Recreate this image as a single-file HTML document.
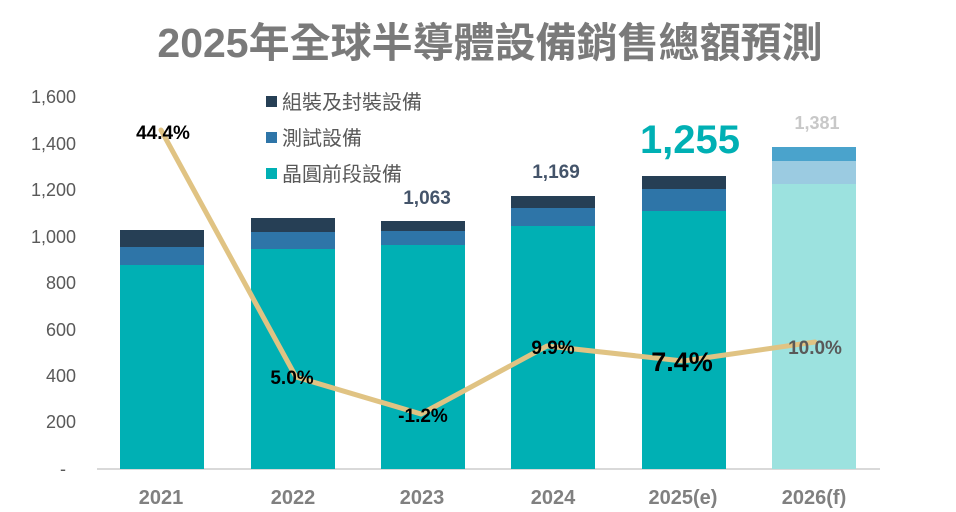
<!DOCTYPE html>
<html><head><meta charset="utf-8"><style>
body{margin:0;background:#fff;}
svg{display:block;font-family:"Liberation Sans","Noto Sans CJK TC",sans-serif;}
</style></head><body>
<svg width="956" height="512" viewBox="0 0 956 512">
<text x="490" y="57" text-anchor="middle" font-size="41" font-weight="bold" fill="#7a7a7a">2025年全球半導體設備銷售總額預測</text>
<g font-size="18" fill="#595959" text-anchor="end">
<text x="76" y="103">1,600</text><text x="76" y="150">1,400</text><text x="76" y="196">1,200</text>
<text x="76" y="243">1,000</text><text x="76" y="289">800</text><text x="76" y="336">600</text>
<text x="76" y="382">400</text><text x="76" y="428">200</text><text x="66" y="475">-</text>
</g>
<line x1="97" y1="469" x2="880" y2="469" stroke="#d9d9d9" stroke-width="2"/>
<g>
<rect x="120" y="265" width="84" height="204" fill="#00b0b4"/><rect x="120" y="247" width="84" height="18" fill="#2e75a8"/><rect x="120" y="230" width="84" height="17" fill="#263f55"/>
<rect x="251" y="249" width="84" height="220" fill="#00b0b4"/><rect x="251" y="232" width="84" height="17" fill="#2e75a8"/><rect x="251" y="218" width="84" height="14" fill="#263f55"/>
<rect x="381" y="245" width="84" height="224" fill="#00b0b4"/><rect x="381" y="231" width="84" height="14" fill="#2e75a8"/><rect x="381" y="221" width="84" height="10" fill="#263f55"/>
<rect x="511" y="226" width="84" height="243" fill="#00b0b4"/><rect x="511" y="208" width="84" height="18" fill="#2e75a8"/><rect x="511" y="196" width="84" height="12" fill="#263f55"/>
<rect x="642" y="211" width="84" height="258" fill="#00b0b4"/><rect x="642" y="189" width="84" height="22" fill="#2e75a8"/><rect x="642" y="176" width="84" height="13" fill="#263f55"/>
<rect x="772" y="184" width="84" height="285" fill="#9ce2df"/><rect x="772" y="161" width="84" height="23" fill="#9bcbe1"/><rect x="772" y="147" width="84" height="14" fill="#4aa3cc"/>
</g>
<polyline points="161,130 296,377 421,414 547,346 683,361 815,342" fill="none" stroke="#e0c383" stroke-width="5" stroke-linejoin="round" stroke-linecap="round"/>
<g font-weight="bold" text-anchor="middle">
<text x="163" y="139" font-size="19" fill="#000">44.4%</text>
<text x="292" y="384" font-size="19" fill="#000">5.0%</text>
<text x="423" y="422" font-size="19" fill="#000">-1.2%</text>
<text x="553" y="354" font-size="19" fill="#000">9.9%</text>
<text x="682" y="371" font-size="27" fill="#000">7.4%</text>
<text x="815" y="354" font-size="19" fill="#595959">10.0%</text>
<text x="427" y="204" font-size="19" fill="#44546a">1,063</text>
<text x="556" y="178" font-size="19" fill="#44546a">1,169</text>
<text x="690" y="153" font-size="40" fill="#00b0b4">1,255</text>
<text x="817" y="129" font-size="18" fill="#c8c8c8">1,381</text>
<g font-size="20" fill="#808080">
<text x="161" y="504">2021</text><text x="293" y="504">2022</text><text x="422" y="504">2023</text>
<text x="553" y="504">2024</text><text x="683" y="504">2025(e)</text><text x="814" y="504">2026(f)</text>
</g>
</g>
<g font-size="20" fill="#595959">
<rect x="266" y="96" width="11" height="11" fill="#263f55"/><text x="282" y="109">組裝及封裝設備</text>
<rect x="266" y="132" width="11" height="11" fill="#2e75a8"/><text x="282" y="145">測試設備</text>
<rect x="266" y="168" width="11" height="11" fill="#00b0b4"/><text x="282" y="181">晶圓前段設備</text>
</g>
</svg>
</body></html>
